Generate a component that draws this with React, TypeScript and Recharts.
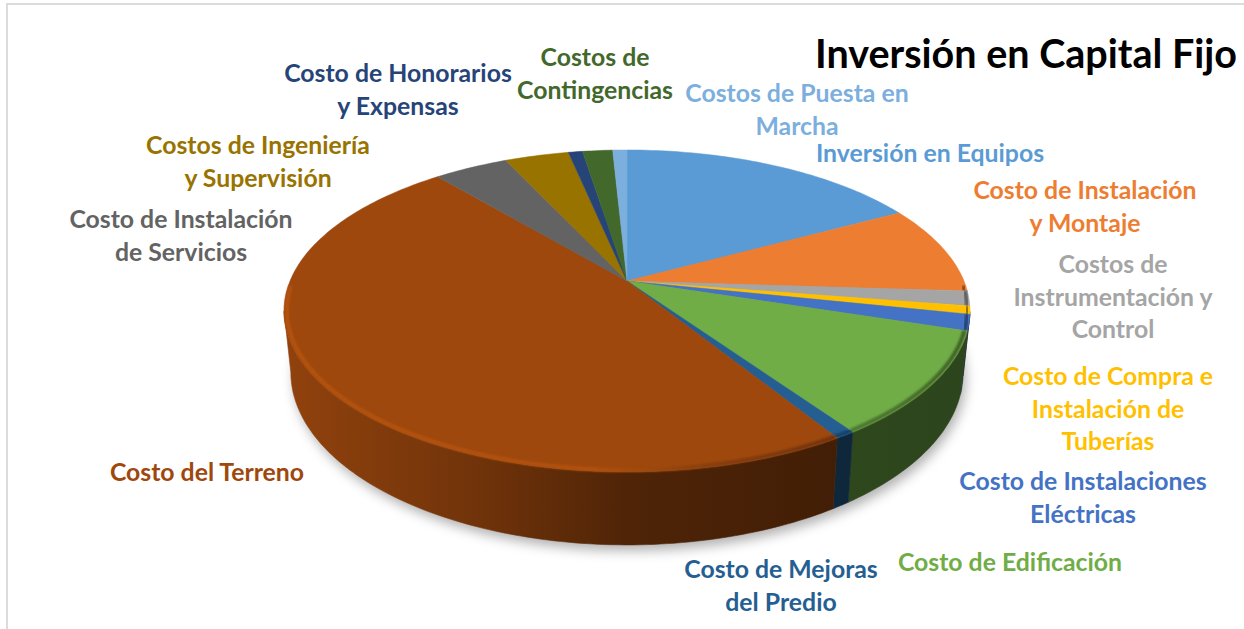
import { PieChart, Pie } from "recharts";

const names = [
  "Inversión en Equipos",
  "Costo de Instalación y Montaje",
  "Costos de Instrumentación y Control",
  "Costo de Compra e Instalación de Tuberías",
  "Costo de Instalaciones Eléctricas",
  "Costo de Edificación",
  "Costo de Mejoras del Predio",
  "Costo del Terreno",
  "Costo de Instalación de Servicios",
  "Costos de Ingeniería y Supervisión",
  "Costo de Honorarios y Expensas",
  "Costos de Contingencias",
  "Costos de Puesta en Marcha",
];
const values = [17.1, 8.9, 1.5, 0.8, 1.6, 10.5, 0.8, 47.7, 4.2, 3.6, 0.8, 1.7, 0.8];
const colors = [
  "#5b9bd5", "#ed7d31", "#a5a5a5", "#ffc000", "#4472c4", "#70ad47", "#255e91",
  "#9e480e", "#636363", "#997300", "#264478", "#43682b", "#7cafdd",
];
const labelLines = [
  ["Inversión en Equipos"],
  ["Costo de Instalación", "y Montaje"],
  ["Costos de", "Instrumentación y", "Control"],
  ["Costo de Compra e", "Instalación de", "Tuberías"],
  ["Costo de Instalaciones", "Eléctricas"],
  ["Costo de Edificación"],
  ["Costo de Mejoras", "del Predio"],
  ["Costo del Terreno"],
  ["Costo de Instalación", "de Servicios"],
  ["Costos de Ingeniería", "y Supervisión"],
  ["Costo de Honorarios", "y Expensas"],
  ["Costos de", "Contingencias"],
  ["Costos de Puesta en", "Marcha"],
];
// centre x and first baseline of each label
const labelAnchors = [
  [930, 162], [1085, 199], [1113, 273], [1108, 385], [1083, 490], [1010, 571], [781, 578],
  [207, 481], [181, 228], [258, 154], [398, 82], [595, 66], [797, 102],
];

const slices = names.map((name, i) => ({ name, value: values[i], fill: colors[i] }));
const wholeDisc = [{ name: "sombra", value: 1 }];

const W = 1244;
const H = 629;
const FONT = "Lato, Carlito, sans-serif";
const LINE_HEIGHT = 32.7;

// tilted disc: the pie's angles go through a perspective projection
const CX = 627;
const CY = 281;
const RX = 337;
const RY = 155.4;
const PERSP = 0.186;
const DEPTH = 59.4;
const BOTTOM_SHRINK = 0.98;
const RIM_INSET = 0.992;

const toPoint = (deg: number, lower = false, scale = 1): [number, number] => {
  const a = (deg * Math.PI) / 180;
  const u = Math.cos(a) * scale;
  const v = Math.sin(a) * scale;
  const w = 1 + PERSP * v;
  const x = (RX * u) / w;
  const y = CY - (RY * v) / w;
  return lower ? [CX + x * BOTTOM_SHRINK, y + DEPTH / w] : [CX + x, y];
};

const arcAngles = (start: number, end: number) => {
  const out: number[] = [];
  const n = Math.max(2, Math.ceil(Math.abs(end - start)));
  for (let i = 0; i <= n; i++) out.push(start + ((end - start) * i) / n);
  return out;
};

const toPath = (pts: [number, number][]) =>
  pts.map((p, i) => `${i ? "L" : "M"}${p[0].toFixed(1)} ${p[1].toFixed(1)}`).join(" ");

const shade = (hex: string, f: number) => {
  const n = parseInt(hex.slice(1), 16);
  const c = [(n >> 16) & 255, (n >> 8) & 255, n & 255].map((k) => Math.min(255, Math.round(k * f)));
  return `rgb(${c.join(",")})`;
};

const isFront = (deg: number) => Math.sin((deg * Math.PI) / 180) <= -PERSP;

function ShadowShape(props: any) {
  const pts = arcAngles(props.startAngle, props.endAngle).map((d) => {
    const p = toPoint(d, true);
    return [p[0] + 3, p[1] + 6] as [number, number];
  });
  return <path d={toPath(pts) + " Z"} fill="#000" fillOpacity={0.3} filter="url(#soft)" />;
}

function WallShape(props: any) {
  const angles = arcAngles(props.startAngle, props.endAngle).filter(isFront);
  if (angles.length < 2) return null;
  const pts = [
    ...angles.map((d) => toPoint(d)),
    ...angles.slice().reverse().map((d) => toPoint(d, true)),
  ];
  const i = colors.indexOf(props.fill);
  return <path d={toPath(pts) + " Z"} fill={`url(#wall-${i})`} stroke={`url(#wall-${i})`} strokeWidth={0.6} />;
}

function TopShape(props: any) {
  const i = colors.indexOf(props.fill);
  const angles = arcAngles(props.startAngle, props.endAngle);
  const pts = angles.map((d) => toPoint(d));
  const rim = angles
    .filter((d) => Math.sin((d * Math.PI) / 180) < -0.02)
    .map((d) => toPoint(d, false, RIM_INSET));
  return (
    <g>
      <path d={`M${CX} ${CY} ${toPath(pts).replace("M", "L")} Z`} fill={props.fill} stroke={props.fill} strokeWidth={0.5} />
      {rim.length > 1 && <path d={toPath(rim)} fill="none" stroke={`url(#rim-${i})`} strokeWidth={4} filter="url(#edge)" />}
    </g>
  );
}

function SliceLabel(props: any) {
  const i = props.index;
  const [x, y] = labelAnchors[i];
  return (
    <text x={x} y={y} textAnchor="middle" fill={colors[i]} fontFamily={FONT} fontWeight={700} fontSize={24.8}>
      {labelLines[i].map((line, k) => (
        <tspan key={k} x={x} y={y + k * LINE_HEIGHT}>
          {line}
        </tspan>
      ))}
    </text>
  );
}

export default function App() {
  return (
    <div style={{ position: "absolute", left: 0, top: 0, width: W, height: H, overflow: "hidden", background: "#fff" }}>
      <div
        style={{
          position: "absolute",
          left: 6,
          top: 3,
          width: W,
          height: H,
          borderLeft: "2px solid #dcdcdc",
          borderTop: "2px solid #dcdcdc",
        }}
      />
      <PieChart width={W} height={H} margin={{ top: 0, right: 0, bottom: 0, left: 0 }}>
        <defs>
          <filter id="soft" x="-10%" y="-20%" width="120%" height="140%">
            <feGaussianBlur stdDeviation="6" />
          </filter>
          <filter id="edge" x="-5%" y="-5%" width="110%" height="110%">
            <feGaussianBlur stdDeviation="1.2" />
          </filter>
          {colors.map((c, i) => (
            <linearGradient key={c} id={`wall-${i}`} gradientUnits="userSpaceOnUse" x1={285} x2={972} y1={0} y2={0}>
              <stop offset="0%" stopColor={shade(c, 0.92)} />
              <stop offset="27%" stopColor={shade(c, 0.72)} />
              <stop offset="50%" stopColor={shade(c, 0.5)} />
              <stop offset="81%" stopColor={shade(c, 0.41)} />
              <stop offset="100%" stopColor={shade(c, 0.4)} />
            </linearGradient>
          ))}
          {colors.map((c, i) => (
            <linearGradient key={c} id={`rim-${i}`} gradientUnits="userSpaceOnUse" x1={285} x2={972} y1={0} y2={0}>
              <stop offset="0%" stopColor={shade(c, 1.14)} />
              <stop offset="45%" stopColor={shade(c, 1.12)} />
              <stop offset="62%" stopColor={shade(c, 0.85)} />
              <stop offset="100%" stopColor={shade(c, 0.55)} />
            </linearGradient>
          ))}
        </defs>
        <Pie
          data={wholeDisc}
          dataKey="value"
          cx={CX}
          cy={CY}
          outerRadius={RX}
          startAngle={90}
          endAngle={-270}
          shape={ShadowShape}
          isAnimationActive={false}
          legendType="none"
        />
        <Pie
          data={slices}
          dataKey="value"
          cx={CX}
          cy={CY}
          outerRadius={RX}
          startAngle={90}
          endAngle={-270}
          shape={WallShape}
          isAnimationActive={false}
        />
        <Pie
          data={slices}
          dataKey="value"
          nameKey="name"
          cx={CX}
          cy={CY}
          outerRadius={RX}
          startAngle={90}
          endAngle={-270}
          shape={TopShape}
          label={SliceLabel}
          labelLine={false}
          isAnimationActive={false}
        />
      </PieChart>
      <div
        style={{
          position: "absolute",
          left: 815,
          top: 30,
          fontFamily: FONT,
          fontWeight: 700,
          fontSize: 39.5,
          lineHeight: "46px",
          color: "#000",
          whiteSpace: "nowrap",
        }}
      >
        Inversión en Capital Fijo
      </div>
    </div>
  );
}
